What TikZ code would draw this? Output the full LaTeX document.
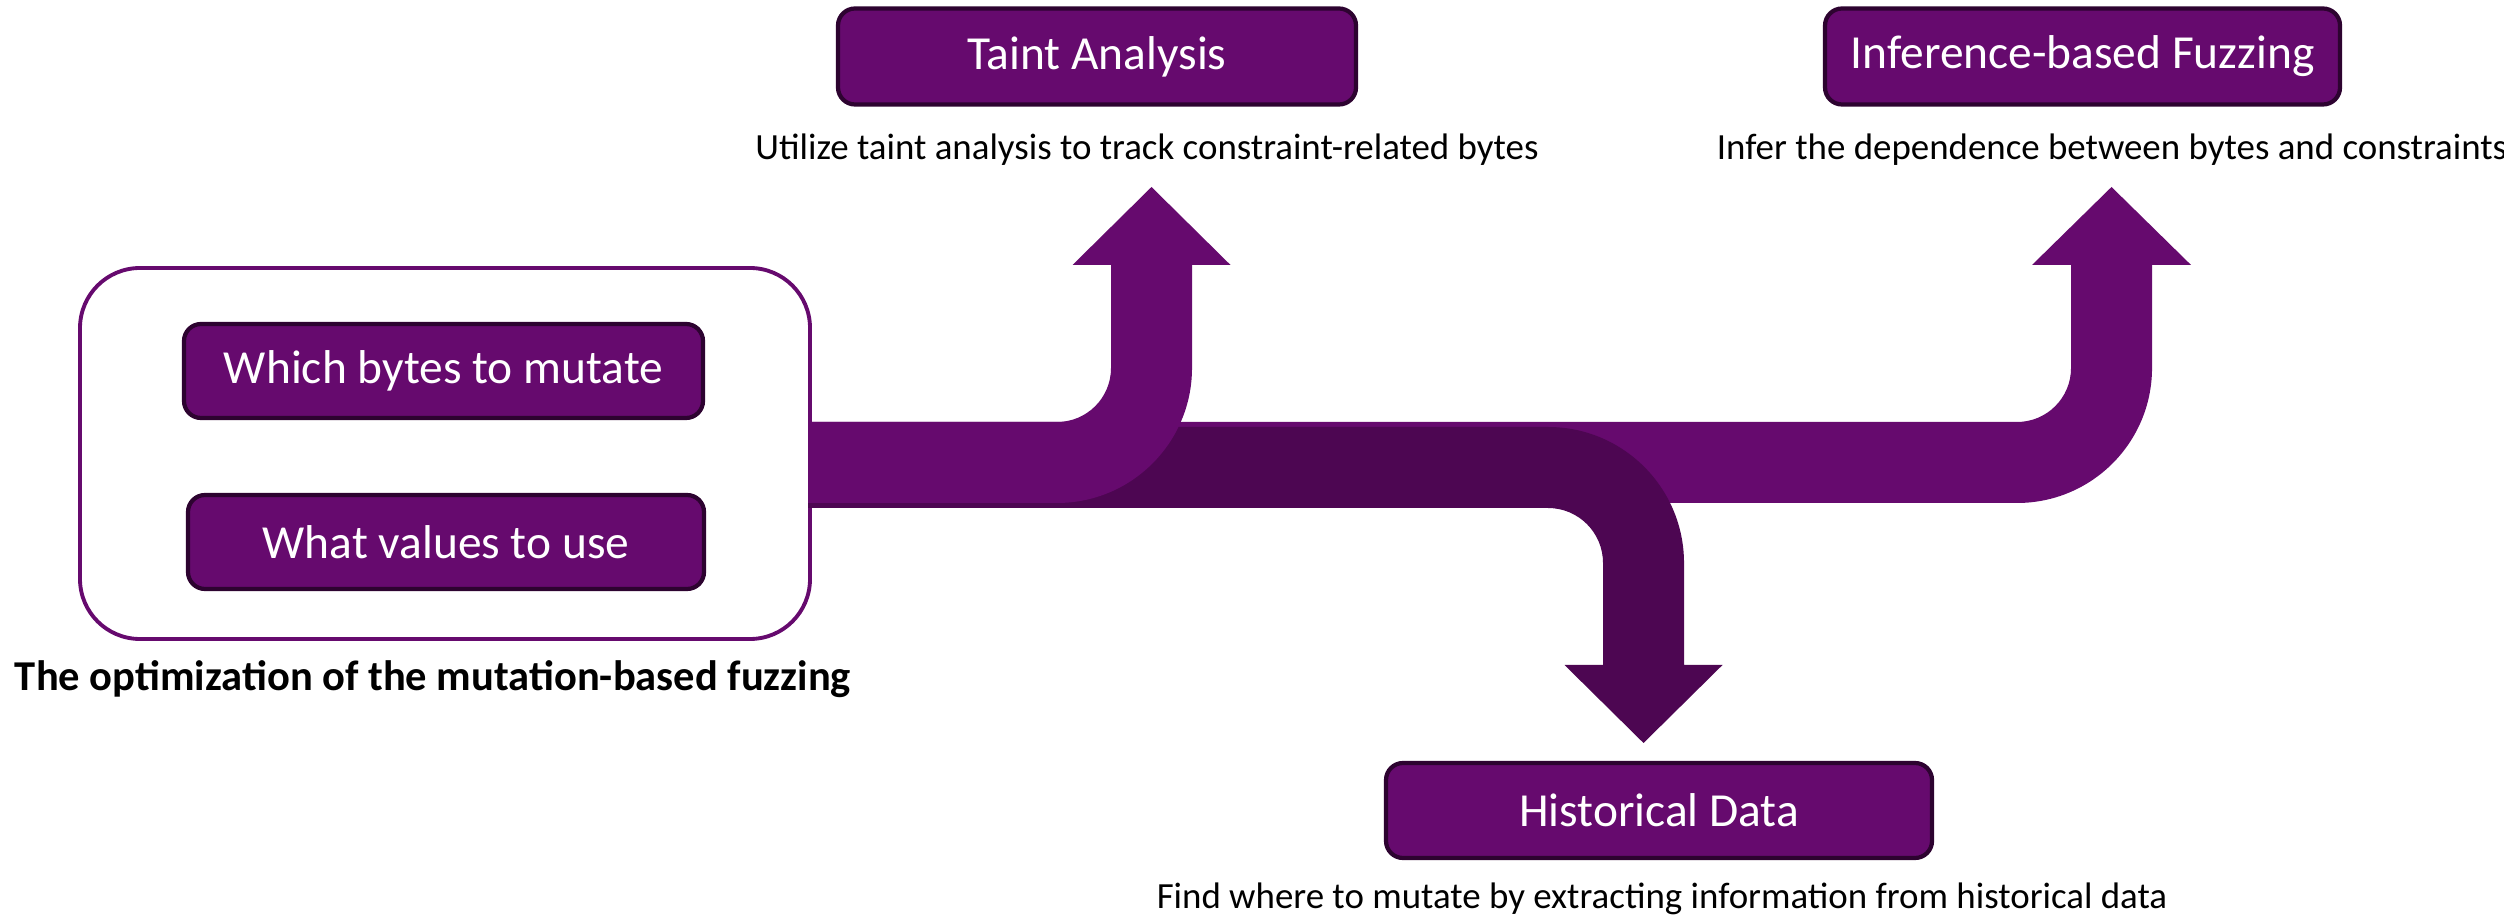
\documentclass[tikz,border=0pt]{standalone}
\usepackage{fontspec}
\setmainfont{Carlito}
\usetikzlibrary{positioning}
\definecolor{fuzzpurple}{RGB}{102,10,110}
\definecolor{fuzzdark}{RGB}{77,6,82}
\definecolor{fuzzedge}{RGB}{45,3,48}
\tikzset{
  techbox/.style={draw=fuzzedge, line width=1.2pt, fill=fuzzpurple, rounded corners=0.17cm,
    text=white, font=\fontsize{13.5}{16}\selectfont, minimum width=5.18cm,
    minimum height=0.96cm, inner sep=0pt},
  desc/.style={font=\fontsize{10.5}{12}\selectfont, inner sep=0pt},
}

\begin{document}
\begin{tikzpicture}[x=1cm, y=-1cm]
  \useasboundingbox (0,0) rectangle (25.04,9.19);
  % the two questions
  \node[draw=fuzzpurple, line width=1.1pt, rounded corners=0.6cm, minimum width=7.30cm, minimum height=3.71cm] (frame) at (4.45,4.535) {};
  \node[techbox, minimum width=5.19cm, minimum height=0.94cm] (bytes) at (4.435,3.71) {Which bytes to mutate};
  \node[techbox, minimum width=5.16cm, minimum height=0.94cm] (values) at (4.46,5.42) {What values to use};
  \node[font=\bfseries\fontsize{12.1}{14}\selectfont, inner sep=0pt] (goal) at (4.33,6.79) {The optimization of the mutation-based fuzzing};
  % inference arrow
  \fill[fuzzpurple] (8.08,4.22) -- (20.17,4.22) arc (90:0:0.54) -- (20.71,2.65) -- (20.32,2.65)
    -- (21.115,1.87) -- (21.91,2.65) -- (21.52,2.65) -- (21.52,3.68) arc (0:90:1.35) -- (8.08,5.03) -- cycle;
  % historical data arrow
  \fill[fuzzdark] (8.08,4.27) -- (15.48,4.27) arc (-90:0:1.36) -- (16.84,6.65) -- (17.225,6.65)
    -- (16.435,7.43) -- (15.645,6.65) -- (16.03,6.65) -- (16.03,5.63) arc (0:-90:0.55) -- (8.08,5.08) -- cycle;
  % taint arrow
  \fill[fuzzpurple] (8.08,4.22) -- (10.57,4.22) arc (90:0:0.54) -- (11.11,2.65) -- (10.725,2.65)
    -- (11.515,1.87) -- (12.305,2.65) -- (11.92,2.65) -- (11.92,3.68) arc (0:90:1.35) -- (8.08,5.03) -- cycle;
  % techniques
  \node[techbox] (taint) at (10.97,0.565) {Taint Analysis};
  \node[desc] (taintdesc) at (11.47,1.50) {Utilize taint analysis to track constraint-related bytes};
  \node[techbox, minimum width=5.15cm] (infer) at (20.825,0.565) {Inference-based Fuzzing};
  \node[desc] (inferdesc) at (21.12,1.50) {Infer the dependence between bytes and constraints};
  \node[techbox, minimum width=5.46cm, minimum height=0.95cm] (hist) at (16.59,8.105) {Historical Data};
  \node[desc] (histdesc) at (16.62,8.99) {Find where to mutate by extracting information from historical data};
\end{tikzpicture}
\end{document}
